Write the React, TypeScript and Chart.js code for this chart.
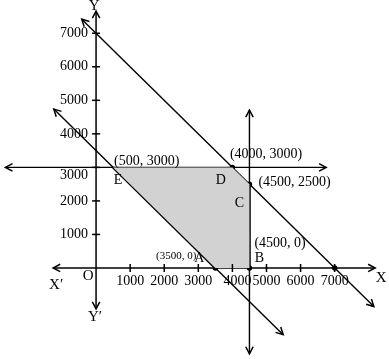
import React, { useEffect, useRef } from 'react';
import { Chart, registerables } from 'chart.js';

Chart.register(...registerables);

// ---- data ----
const xTickValues = [1000, 2000, 3000, 4000, 5000, 6000, 7000];
const xTickLabels = ['1000', '2000', '3000', '4000', '5000', '6000', '7000'];
const yTickValues = [1000, 2000, 3000, 4000, 5000, 6000, 7000];
const yTickLabels = ['1000', '2000', '3000', '4000', '5000', '6000', '7000'];

const vertexNames = ['E', 'D', 'C', 'B', 'A'];
const vertexCoordText = ['(500, 3000)', '(4000, 3000)', '(4500, 2500)', '(4500, 0)', '(3500, 0)'];
const vertexX = [500, 4000, 4500, 4500, 3500];
const vertexY = [3000, 3000, 2500, 0, 0];

const extraPointX = [7000];
const extraPointY = [0];

// constraint lines (end points)
const line7000X = [-420, 8150];
const line7000Y = [7420, -1150];
const line3500X = [-1240, 5490];
const line3500Y = [4740, -1990];
const line4500X = [4500, 4500];
const line4500Y = [4710, -2560];
const line3000X = [-2660, 6750];
const line3000Y = [3000, 3000];

// axes
const xAxisX = [-1260, 8190];
const xAxisY = [0, 0];
const yAxisX = [0, 0];
const yAxisY = [-1220, 7660];

const axisNames = ['X', 'X′', 'Y', 'Y′', 'O'];

const pts = (xs: number[], ys: number[]) => xs.map((x, i) => ({ x, y: ys[i] }));

const FONT = '"Liberation Serif", "Times New Roman", serif';

const arrowPlugin = {
  id: 'arrows',
  afterDatasetsDraw(chart: any) {
    const ctx = chart.ctx;
    chart.data.datasets.forEach((ds: any, i: number) => {
      if (!ds.arrowEnds) return;
      const meta = chart.getDatasetMeta(i);
      const els = meta.data;
      if (els.length < 2) return;
      const ends = [
        [els[0], els[1]],
        [els[els.length - 1], els[els.length - 2]],
      ];
      ctx.save();
      ctx.strokeStyle = '#000';
      ctx.lineWidth = 1.5;
      ends.forEach(([tip, prev]: any) => {
        const ang = Math.atan2(tip.y - prev.y, tip.x - prev.x);
        const L = 8;
        const a = Math.PI / 6.5;
        ctx.beginPath();
        ctx.moveTo(tip.x - L * Math.cos(ang - a), tip.y - L * Math.sin(ang - a));
        ctx.lineTo(tip.x, tip.y);
        ctx.lineTo(tip.x - L * Math.cos(ang + a), tip.y - L * Math.sin(ang + a));
        ctx.stroke();
      });
      ctx.restore();
    });
  },
};

const labelPlugin = {
  id: 'labels',
  afterDraw(chart: any) {
    const ctx = chart.ctx;
    const xs = chart.scales.x;
    const ys = chart.scales.y;
    const ox = xs.getPixelForValue(0);
    const oy = ys.getPixelForValue(0);
    ctx.save();
    ctx.strokeStyle = '#000';
    ctx.fillStyle = '#000';
    ctx.lineWidth = 1.5;
    // tick marks
    xTickValues.forEach((v) => {
      const px = xs.getPixelForValue(v);
      ctx.beginPath();
      ctx.moveTo(px, oy - 4);
      ctx.lineTo(px, oy + 4);
      ctx.stroke();
    });
    yTickValues.forEach((v) => {
      const py = ys.getPixelForValue(v);
      ctx.beginPath();
      ctx.moveTo(ox - 4, py);
      ctx.lineTo(ox + 4, py);
      ctx.stroke();
    });
    ctx.font = `14px ${FONT}`;
    ctx.textBaseline = 'middle';
    ctx.textAlign = 'center';
    xTickValues.forEach((v, i) => {
      const px = xs.getPixelForValue(v) + (v === 4000 ? 5 : 0);
      ctx.fillText(xTickLabels[i], px, oy + 13);
    });
    ctx.textAlign = 'right';
    yTickValues.forEach((v, i) => {
      const py = ys.getPixelForValue(v) + (v === 3000 ? 8 : 0);
      ctx.fillText(yTickLabels[i], ox - 8, py);
    });

    // vertex labels
    const nameOff = [[5, 13], [-11.5, 12.5], [-10, 19], [10, -10], [-16, -9.5]];
    const coordOff = [[1, -6.5], [-2.5, -13.5], [9, -1.5], [5, -25], [-19, -12]];
    const coordAlign = ['left', 'left', 'left', 'left', 'right'];
    vertexNames.forEach((n, i) => {
      const px = xs.getPixelForValue(vertexX[i]);
      const py = ys.getPixelForValue(vertexY[i]);
      ctx.font = `14px ${FONT}`;
      ctx.textAlign = 'center';
      ctx.fillText(n, px + nameOff[i][0], py + nameOff[i][1]);
      ctx.font = i === 4 ? `11px ${FONT}` : `14px ${FONT}`;
      ctx.textAlign = coordAlign[i];
      ctx.fillText(vertexCoordText[i], px + coordOff[i][0], py + coordOff[i][1]);
    });

    // axis names
    ctx.font = `15px ${FONT}`;
    ctx.textAlign = 'center';
    const xEnd = xs.getPixelForValue(xAxisX[1]);
    const xStart = xs.getPixelForValue(xAxisX[0]);
    const yTop = ys.getPixelForValue(yAxisY[1]);
    const yBot = ys.getPixelForValue(yAxisY[0]);
    ctx.fillText(axisNames[0], xEnd + 6, oy + 10);
    ctx.fillText(axisNames[1], xStart + 3, oy + 17);
    ctx.fillText(axisNames[2], ox - 2, yTop - 5);
    ctx.fillText(axisNames[3], ox - 1, yBot + 8);
    ctx.fillText(axisNames[4], ox - 8, oy + 8);
    ctx.restore();
  },
};

export default function App() {
  const ref = useRef<HTMLCanvasElement | null>(null);
  useEffect(() => {
    if (!ref.current) return;
    const thin = { showLine: true, borderColor: '#000', borderWidth: 1.4, pointRadius: 0, fill: false };
    const regionPts = pts(vertexX, vertexY);
    regionPts.push({ ...regionPts[0] });
    const chart = new Chart(ref.current, {
      type: 'scatter',
      data: {
        datasets: [
          {
            data: regionPts,
            showLine: true,
            fill: 'shape',
            backgroundColor: '#d2d2d2',
            borderWidth: 0,
            borderColor: 'rgba(0,0,0,0)',
            pointRadius: 0,
          } as any,
          { ...thin, borderWidth: 1.5, data: pts(xAxisX, xAxisY), arrowEnds: true } as any,
          { ...thin, borderWidth: 1.5, data: pts(yAxisX, yAxisY), arrowEnds: true } as any,
          { ...thin, data: pts(line7000X, line7000Y), arrowEnds: true } as any,
          { ...thin, data: pts(line3500X, line3500Y), arrowEnds: true } as any,
          { ...thin, data: pts(line4500X, line4500Y), arrowEnds: true } as any,
          { ...thin, data: pts(line3000X, line3000Y), arrowEnds: true } as any,
          { ...thin, borderWidth: 2.6, data: [regionPts[4], regionPts[0]] } as any,
          { ...thin, borderWidth: 2.6, data: [regionPts[2], regionPts[3]] } as any,
          {
            data: [...pts(vertexX.slice(1), vertexY.slice(1)), ...pts(extraPointX, extraPointY)],
            showLine: false,
            pointRadius: 2.7,
            pointBackgroundColor: '#000',
            pointBorderWidth: 0,
          } as any,
        ],
      },
      options: {
        animation: false,
        responsive: false,
        maintainAspectRatio: false,
        layout: { padding: 0 },
        plugins: { legend: { display: false }, tooltip: { enabled: false } },
        events: [],
        scales: {
          x: { type: 'linear', display: false, min: -2701, max: 8477 },
          y: { type: 'linear', display: false, min: -2595, max: 7872 },
        },
      },
      plugins: [arrowPlugin, labelPlugin],
    });
    return () => chart.destroy();
  }, []);
  return (
    <div style={{ position: 'absolute', left: 0, top: 0, width: 389, height: 359, background: '#fff' }}>
      <canvas ref={ref} width={389} height={359} style={{ display: 'block' }} />
    </div>
  );
}
